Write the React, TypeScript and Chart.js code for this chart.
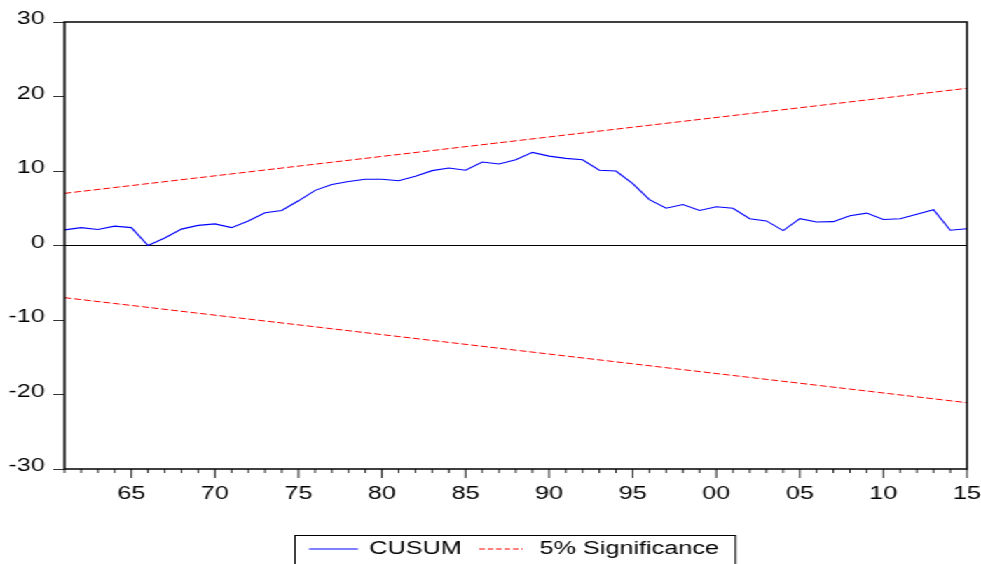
import React, { useEffect, useRef } from 'react';
import { Chart, registerables } from 'chart.js';

Chart.register(...registerables);

const years = [
  1961, 1962, 1963, 1964, 1965, 1966, 1967, 1968, 1969, 1970,
  1971, 1972, 1973, 1974, 1975, 1976, 1977, 1978, 1979, 1980,
  1981, 1982, 1983, 1984, 1985, 1986, 1987, 1988, 1989, 1990,
  1991, 1992, 1993, 1994, 1995, 1996, 1997, 1998, 1999, 2000,
  2001, 2002, 2003, 2004, 2005, 2006, 2007, 2008, 2009, 2010,
  2011, 2012, 2013, 2014, 2015,
];

const cusum = [
  2.1, 2.4, 2.15, 2.6, 2.4, 0.0, 1.0, 2.2, 2.7, 2.9,
  2.4, 3.3, 4.4, 4.7, 6.0, 7.4, 8.2, 8.6, 8.9, 8.9,
  8.7, 9.3, 10.05, 10.4, 10.1, 11.2, 10.95, 11.5, 12.5, 12.0,
  11.7, 11.5, 10.1, 10.0, 8.3, 6.15, 5.0, 5.5, 4.7, 5.2,
  5.0, 3.6, 3.3, 2.0, 3.6, 3.15, 3.2, 4.0, 4.35, 3.5,
  3.6, 4.2, 4.8, 2.05, 2.25,
];

const boundYears = [1961, 2015];
const upperBound = [7.0, 21.1];
const lowerBound = [-7.0, -21.1];

const xLabelYears = [1965, 1970, 1975, 1980, 1985, 1990, 1995, 2000, 2005, 2010, 2015];
const xTickLabels = ['65', '70', '75', '80', '85', '90', '95', '00', '05', '10', '15'];

const seriesNames = ['CUSUM', '5% Significance'];

const FONT = "'Liberation Sans', Arial, sans-serif";
const INNER_W = 700;
const OUTER_W = 981;
const H = 564;

const framePlugin = {
  id: 'framePlugin',
  beforeDatasetsDraw(chart: any) {
    const { ctx, chartArea, scales } = chart;
    const y0 = scales.y.getPixelForValue(0);
    ctx.save();
    ctx.strokeStyle = '#000';
    ctx.lineWidth = 1;
    ctx.beginPath();
    ctx.moveTo(chartArea.left, y0);
    ctx.lineTo(chartArea.right, y0);
    ctx.stroke();
    ctx.restore();
  },
  afterDraw(chart: any) {
    const { ctx, chartArea, scales } = chart;
    ctx.save();
    // x tick marks
    ctx.strokeStyle = '#222';
    ctx.lineWidth = 1;
    for (const yr of years) {
      const x = scales.x.getPixelForValue(yr);
      const len = xLabelYears.includes(yr) ? 9 : 4;
      ctx.beginPath();
      ctx.moveTo(x, chartArea.bottom);
      ctx.lineTo(x, chartArea.bottom + len);
      ctx.stroke();
    }
    // frame
    ctx.strokeStyle = '#000';
    ctx.lineWidth = 1.5;
    ctx.strokeRect(chartArea.left, chartArea.top, chartArea.right - chartArea.left, chartArea.bottom - chartArea.top);

    // legend
    const datasets = chart.data.datasets;
    const boxLeft = 210.5;
    const boxTop = 535.5;
    const boxRight = 524.8;
    ctx.lineWidth = 1;
    ctx.strokeStyle = '#000';
    ctx.strokeRect(boxLeft, boxTop, boxRight - boxLeft, 40);
    ctx.font = `18px ${FONT}`;
    ctx.fillStyle = '#000';
    ctx.textBaseline = 'alphabetic';
    let x = boxLeft + 10;
    const lineY = 549;
    const items = [datasets[0], datasets[1]];
    items.forEach((ds: any, i: number) => {
      ctx.save();
      ctx.strokeStyle = ds.borderColor;
      ctx.lineWidth = 1;
      ctx.setLineDash(i === 1 ? [4, 2] : []);
      ctx.beginPath();
      ctx.moveTo(x, lineY);
      ctx.lineTo(x + (i === 1 ? 31 : 35), lineY);
      ctx.stroke();
      ctx.restore();
      x += 43;
      const label = seriesNames[i];
      ctx.fillText(label, x, 553.5);
      x += ctx.measureText(label).width + 12.5;
    });
    ctx.restore();
  },
};

export default function App() {
  const canvasRef = useRef<HTMLCanvasElement | null>(null);

  useEffect(() => {
    const canvas = canvasRef.current;
    if (!canvas) return;
    const chart = new Chart(canvas, {
      type: 'line',
      data: {
        datasets: [
          {
            label: seriesNames[0],
            data: years.map((yr, i) => ({ x: yr, y: cusum[i] })),
            borderColor: '#0000FF',
            borderWidth: 1.1,
            pointRadius: 0,
            tension: 0,
            fill: false,
          },
          {
            label: seriesNames[1],
            data: boundYears.map((yr, i) => ({ x: yr, y: upperBound[i] })),
            borderColor: '#FF0000',
            borderWidth: 1,
            borderDash: [5, 2],
            pointRadius: 0,
            fill: false,
          },
          {
            label: seriesNames[1] + ' (lower)',
            data: boundYears.map((yr, i) => ({ x: yr, y: lowerBound[i] })),
            borderColor: '#FF0000',
            borderWidth: 1,
            borderDash: [5, 2],
            pointRadius: 0,
            fill: false,
          },
        ],
      },
      options: {
        animation: false,
        responsive: true,
        maintainAspectRatio: false,
        devicePixelRatio: 1,
        layout: { padding: { top: 22, right: 10, left: 0, bottom: 0 } },
        plugins: {
          legend: { display: false },
          tooltip: { enabled: false },
        },
        scales: {
          x: {
            type: 'linear',
            min: 1961,
            max: 2015,
            grid: { display: false, drawTicks: false },
            border: { display: false },
            afterFit: (scale: any) => {
              scale.height = 95;
              scale.paddingLeft = 0;
              scale.paddingRight = 0;
            },
            ticks: {
              stepSize: 1,
              autoSkip: false,
              maxRotation: 0,
              minRotation: 0,
              padding: 14,
              color: '#000',
              font: { family: FONT, size: 18 },
              callback: (value: any) => {
                const idx = xLabelYears.indexOf(Number(value));
                return idx >= 0 ? xTickLabels[idx] : '';
              },
            },
          },
          y: {
            min: -30,
            max: 30,
            afterFit: (scale: any) => {
              scale.width = 46;
              scale.paddingTop = 0;
              scale.paddingBottom = 0;
            },
            grid: {
              drawOnChartArea: false,
              drawTicks: true,
              tickLength: 8,
              color: '#333',
            },
            border: { display: false },
            ticks: {
              stepSize: 10,
              padding: 6,
              labelOffset: -2.5,
              color: '#000',
              font: { family: FONT, size: 18 },
            },
          },
        },
      },
      plugins: [framePlugin],
    });
    return () => chart.destroy();
  }, []);

  return (
    <div
      style={{
        position: 'absolute',
        left: 0,
        top: 0,
        width: INNER_W,
        height: H,
        transform: `scaleX(${OUTER_W / INNER_W})`,
        transformOrigin: '0 0',
        background: '#fff',
      }}
    >
      <canvas ref={canvasRef} />
    </div>
  );
}
